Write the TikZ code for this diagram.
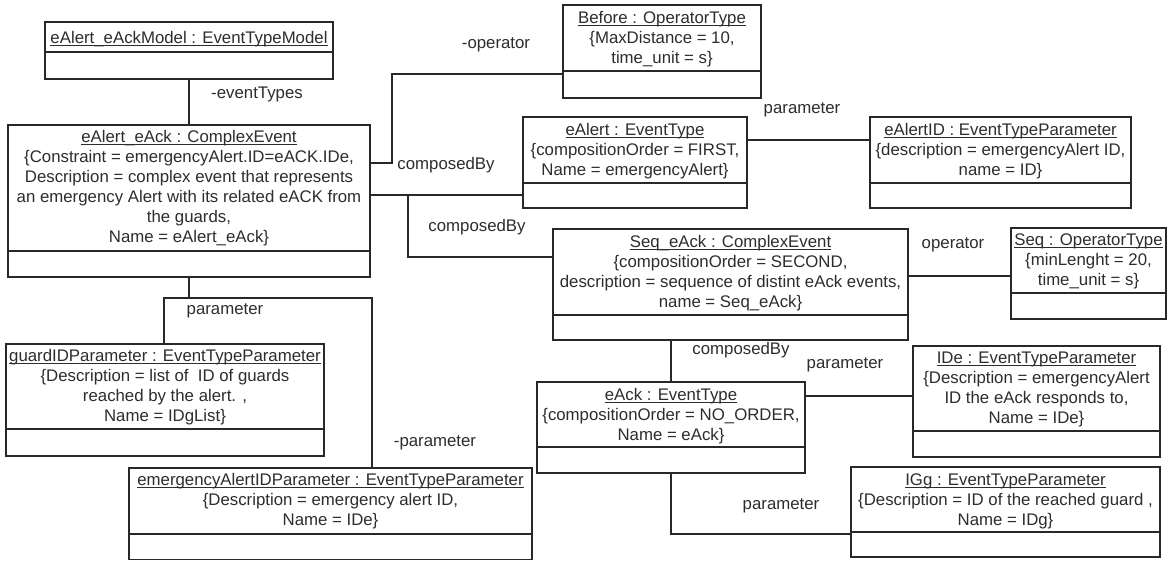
\documentclass[tikz,border=0pt]{standalone}
\usepackage{fontspec}
\setmainfont{Liberation Sans}
\definecolor{linec}{RGB}{40,40,40}
\definecolor{textc}{RGB}{45,45,45}
\newcommand\fs{\fontsize{16.8}{20}\selectfont}
\newcommand\uln[1]{\setbox0=\hbox{#1}\rlap{\rule[-2.8pt]{\wd0}{1pt}}\box0}
% name, left, top, right, bottom, divider, first baseline, text
\newcommand\umlobj[8]{%
  \node[objbox, minimum width={(#4-#2)*1pt}, minimum height={(#5-#3)*1pt}] (#1) at ({(#2+#4)/2},{(#3+#5)/2}) {};
  \draw[divline] (#2,#6) -- (#4,#6);
  \node[objtext, anchor=north] (#1-t) at ({(#2+#4)/2},{#7-15}) {\rule{0pt}{15pt}#8};
}
\tikzset{
  objbox/.style={draw=linec, line width=1.5pt, fill=white, inner sep=0pt, outer sep=0pt},
  divline/.style={draw=linec, line width=1.5pt},
  objtext/.style={align=center, inner sep=0pt, text=textc, font=\fs},
  conn/.style={draw=linec, line width=1.3pt},
  lbl/.style={text=textc, font=\fs, inner sep=0pt},
}
\begin{document}
\begin{tikzpicture}[x=1pt,y=-1pt]
\useasboundingbox (0,0) rectangle (1169,561);
\fill[white] (0,0) rectangle (1169,561);

\umlobj{model}{45}{22}{333}{79}{52}{43}{\uln{eAlert\_eAckModel : EventTypeModel}}
\umlobj{ealertack}{8}{125}{370}{277}{251}{142.5}{\uln{eAlert\_eAck : ComplexEvent}\\\{Constraint = emergencyAlert.ID=eACK.IDe,\\Description = complex event that represents\\an emergency Alert with its related eACK from\\the guards,\\Name = eAlert\_eAck\}}
\umlobj{before}{563}{5}{761}{98}{71}{23}{\uln{Before : OperatorType}\\\{MaxDistance = 10,\\time\_unit = s\}}
\umlobj{ealert}{523}{117}{747}{208}{183}{135}{\uln{eAlert : EventType}\\\{compositionOrder = FIRST,\\Name = emergencyAlert\}}
\umlobj{ealertid}{870}{117}{1131}{208}{183}{135}{\uln{eAlertID : EventTypeParameter}\\\{description = emergencyAlert ID,\\name = ID\}}
\umlobj{seqeack}{553}{229}{908}{340}{315}{247}{\uln{Seq\_eAck : ComplexEvent}\\\{compositionOrder = SECOND,\\description = sequence of distint eAck events,\\name = Seq\_eAck\}}
\umlobj{seq}{1011}{228}{1166}{319}{293}{245}{\uln{Seq : OperatorType}\\\{minLenght = 20,\\time\_unit = s\}}
\umlobj{eack}{537}{382}{805}{473}{447}{400}{\uln{eAck : EventType}\\\{compositionOrder = NO\_ORDER,\\Name = eAck\}}
\umlobj{ide}{913}{346}{1160}{457}{431}{363}{\uln{IDe : EventTypeParameter}\\\{Description = emergencyAlert\\ID the eAck responds to,\\Name = IDe\}}
\umlobj{igg}{851}{467}{1160}{557}{532}{485}{\uln{IGg : EventTypeParameter}\\\{Description = ID of the reached guard ,\\Name = IDg\}}
\umlobj{guardid}{6}{344}{324}{456}{429}{361}{\uln{guardIDParameter : EventTypeParameter}\\\{Description = list of\ \ ID of guards\\reached by the alert. ,\\Name = IDgList\}}
\umlobj{emerg}{129}{468}{532}{559.5}{534}{485}{\uln{emergencyAlertIDParameter : EventTypeParameter}\\\{Description = emergency alert ID,\\Name = IDe\}}

% helper coordinates
\coordinate (yb) at (0,163);
\coordinate (bend) at (392,74);
\coordinate (yc) at (0,195);
\coordinate (jd) at (408,195);
\coordinate (yd) at (0,257);
\coordinate (ye) at (0,140);
\coordinate (yf) at (0,276);
\coordinate (xg) at (671,0);
\coordinate (yh) at (0,396);
\coordinate (yi) at (0,534);
\coordinate (pj) at (189,298);
\coordinate (xj1) at (164,0);
\coordinate (xj2) at (372,0);

% connectors
\draw[conn] (model.south) -- (ealertack.north);
\draw[conn] (ealertack.east |- yb) -| (bend) -- (before.west |- bend);
\draw[conn] (ealertack.east |- yc) -- (ealert.west |- yc);
\draw[conn] (jd) |- (seqeack.west |- yd);
\draw[conn] (ealert.east |- ye) -- (ealertid.west |- ye);
\draw[conn] (seqeack.east |- yf) -- (seq.west |- yf);
\draw[conn] (seqeack.south -| xg) -- (eack.north -| xg);
\draw[conn] (eack.east |- yh) -- (ide.west |- yh);
\draw[conn] (eack.south) |- (igg.west |- yi);
\draw[conn] (ealertack.south) -- (pj);
\draw[conn] (guardid.north -| xj1) -- (xj1 |- pj) -- (xj2 |- pj) -- (emerg.north -| xj2);

% labels
\node[lbl] (l1) at (257,94) {-eventTypes};
\node[lbl] (l2) at (496,45) {-operator};
\node[lbl] (l3) at (446,165) {composedBy};
\node[lbl] (l4) at (477,227) {composedBy};
\node[lbl] (l5) at (802,110) {parameter};
\node[lbl] (l6) at (953,245) {operator};
\node[lbl] (l7) at (741,350) {composedBy};
\node[lbl] (l8) at (845,365) {parameter};
\node[lbl] (l9) at (781,506) {parameter};
\node[lbl] (l10) at (225,311) {parameter};
\node[lbl] (l11) at (435,443) {-parameter};
\end{tikzpicture}
\end{document}
